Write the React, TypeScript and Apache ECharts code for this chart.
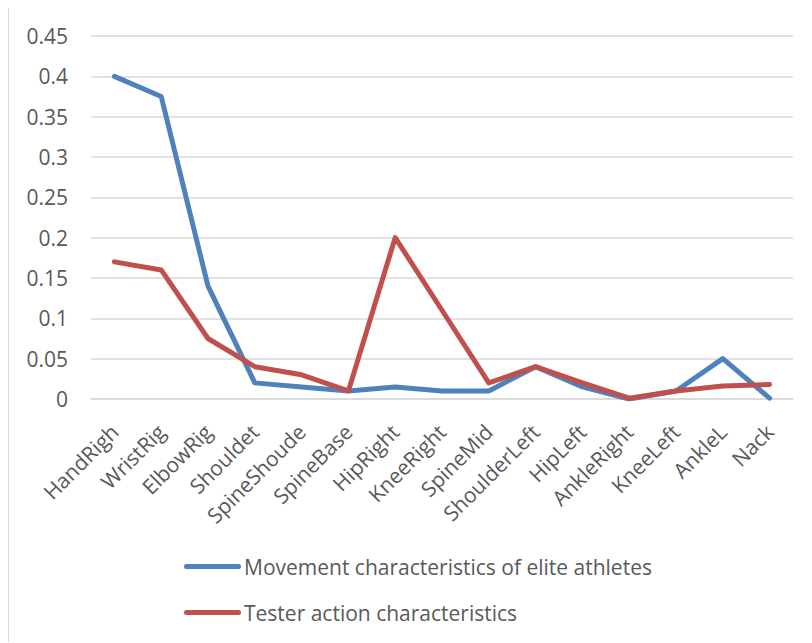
import React, { useEffect, useRef } from "react";
import * as echarts from "echarts";

const categories = [
  "HandRigh", "WristRig", "ElbowRig", "Shouldet", "SpineShoude", "SpineBase",
  "HipRight", "KneeRight", "SpineMid", "ShoulderLeft", "HipLeft", "AnkleRight",
  "KneeLeft", "AnkleL", "Nack",
];
const eliteValues = [0.4, 0.375, 0.14, 0.02, 0.015, 0.01, 0.015, 0.01, 0.01, 0.04, 0.015, 0.0, 0.01, 0.05, 0.001];
const testerValues = [0.17, 0.16, 0.075, 0.04, 0.03, 0.01, 0.2, 0.11, 0.02, 0.04, 0.02, 0.001, 0.01, 0.016, 0.018];
const seriesNames = ["Movement characteristics of elite athletes", "Tester action characteristics"];

const FONT = "'Open Sans', 'Noto Sans', sans-serif";
const TEXT = "#595959";

export default function App() {
  const ref = useRef<HTMLDivElement>(null);
  useEffect(() => {
    if (!ref.current) return;
    const chart = echarts.init(ref.current, undefined, { renderer: "svg" });
    chart.setOption({
      animation: false,
      textStyle: { fontFamily: FONT },
      grid: { left: 82, right: 19, top: 28, bottom: 243, containLabel: false },
      legend: {
        orient: "vertical",
        left: 170,
        top: 543,
        padding: 5,
        itemWidth: 57,
        itemHeight: 20,
        itemGap: 25,
        textStyle: { fontFamily: FONT, fontSize: 21, color: TEXT, padding: [0, 0, 0, -2] },
        data: seriesNames.map((n) => ({ name: n, icon: "path://M2.5,7.5 L54.5,7.5 A2.5,2.5 0 0 1 54.5,12.5 L2.5,12.5 A2.5,2.5 0 0 1 2.5,7.5 Z" })),
      },
      xAxis: {
        type: "category",
        data: categories,
        boundaryGap: true,
        axisLine: { lineStyle: { color: "#d9d9d9", width: 1.5 } },
        axisTick: { show: false },
        axisLabel: { rotate: 45, fontSize: 21, color: TEXT, margin: 29, interval: 0, fontFamily: FONT },
      },
      yAxis: {
        type: "value",
        min: 0,
        max: 0.45,
        interval: 0.05,
        axisLine: { show: false },
        axisTick: { show: false },
        splitLine: { lineStyle: { color: "#d9d9d9", width: 1.5 } },
        axisLabel: { fontSize: 21, color: TEXT, margin: 23, fontFamily: FONT },
      },
      series: [
        {
          name: seriesNames[0],
          type: "line",
          data: eliteValues,
          symbol: "none",
          lineStyle: { color: "#4F81BD", width: 5, cap: "round", join: "round" },
          itemStyle: { color: "#4F81BD" },
        },
        {
          name: seriesNames[1],
          type: "line",
          data: testerValues,
          symbol: "none",
          lineStyle: { color: "#C0504D", width: 5, cap: "round", join: "round" },
          itemStyle: { color: "#C0504D" },
        },
      ],
    });
    return () => chart.dispose();
  }, []);
  return (
    <div
      ref={ref}
      style={{
        width: 804,
        height: 635,
        marginTop: -1,
        borderLeft: "1.5px solid #d9d9d9",
        borderTop: "1.5px solid #d9d9d9",
        boxSizing: "border-box",
      }}
    />
  );
}
